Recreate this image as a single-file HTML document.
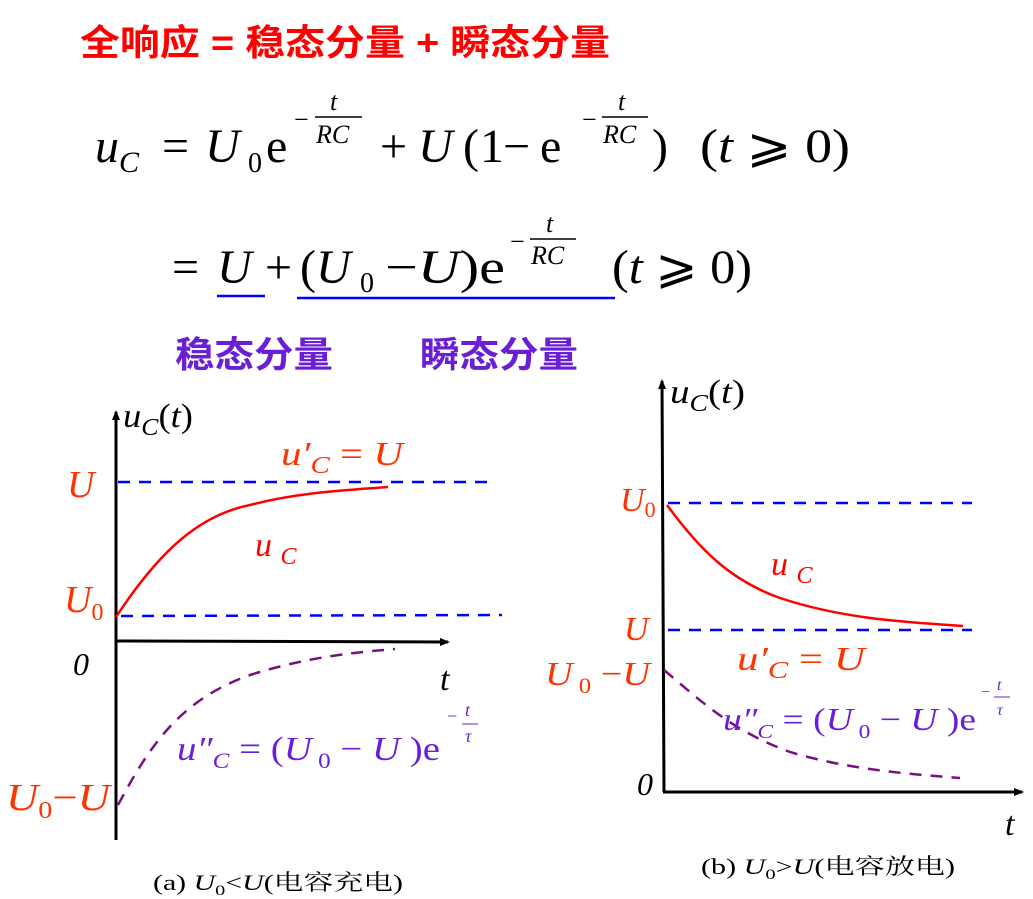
<!DOCTYPE html>
<html><head><meta charset="utf-8"><style>
html,body{margin:0;padding:0;background:#fff;width:1033px;height:899px;overflow:hidden}
svg{display:block}
.s{font-family:"Liberation Serif","Noto Serif CJK SC",serif}
.c{font-family:"Liberation Sans","Noto Sans CJK SC",sans-serif;font-weight:bold}
</style></head><body>
<svg width="1033" height="899" viewBox="0 0 1033 899" xmlns="http://www.w3.org/2000/svg">
<defs><marker id="ar" markerWidth="10" markerHeight="10" refX="8" refY="5" orient="auto" markerUnits="userSpaceOnUse"><path d="M0,1 L10,5 L0,9 z" fill="#000"/></marker></defs>
<text x="80" y="55" class="c" font-size="36" fill="#ff0000" textLength="530" lengthAdjust="spacingAndGlyphs">全响应 = 稳态分量 + 瞬态分量</text>
<!-- formula 1 -->
<g class="s" font-size="48" fill="#000">
<text x="95" y="162" font-style="italic">u<tspan font-size="30" dy="10">C</tspan></text>
<text x="162" y="162">=</text>
<text x="205" y="162" font-style="italic">U</text>
<text x="248" y="172" font-size="28">0</text>
<text x="266" y="162">e</text>
<text x="294" y="128" font-size="26">−</text>
<text x="330" y="110" font-size="26" font-style="italic">t</text>
<line x1="315" y1="117" x2="362" y2="117" stroke="#000" stroke-width="1.5"/>
<text x="316" y="143" font-size="26" font-style="italic">RC</text>
<text x="380" y="162">+</text>
<text x="418" y="162" font-style="italic">U</text>
<text x="463" y="162">(</text>
<text x="480" y="162">1</text>
<text x="503" y="162">−</text>
<text x="540" y="162">e</text>
<text x="582" y="128" font-size="26">−</text>
<text x="618" y="110" font-size="26" font-style="italic">t</text>
<line x1="602" y1="117" x2="648" y2="117" stroke="#000" stroke-width="1.5"/>
<text x="603" y="143" font-size="26" font-style="italic">RC</text>
<text x="652" y="162">)</text>
<text x="700" y="162" textLength="150" lengthAdjust="spacingAndGlyphs">(<tspan font-style="italic">t</tspan> ⩾ 0)</text>
</g>
<!-- formula 2 -->
<g class="s" font-size="48" fill="#000">
<text x="172" y="283">=</text>
<text x="217" y="283" font-style="italic">U</text>
<text x="265" y="283">+</text>
<text x="300" y="283">(<tspan font-style="italic">U</tspan></text>
<text x="360" y="292" font-size="28">0</text>
<text x="385" y="283" textLength="120" lengthAdjust="spacingAndGlyphs">−<tspan font-style="italic">U</tspan>)e</text>
<text x="510" y="250" font-size="26">−</text>
<text x="546" y="232" font-size="26" font-style="italic">t</text>
<line x1="530" y1="239" x2="576" y2="239" stroke="#000" stroke-width="1.5"/>
<text x="531" y="264" font-size="26" font-style="italic">RC</text>
<text x="612" y="283" textLength="140" lengthAdjust="spacingAndGlyphs">(<tspan font-style="italic">t</tspan> ⩾ 0)</text>
</g>
<line x1="217" y1="296" x2="265" y2="296" stroke="#0000ff" stroke-width="2.5"/>
<line x1="297" y1="298" x2="615" y2="298" stroke="#0000ff" stroke-width="2.5"/>
<text x="175" y="367" class="c" font-size="36" fill="#6a1fd6" textLength="158" lengthAdjust="spacingAndGlyphs">稳态分量</text>
<text x="420" y="367" class="c" font-size="36" fill="#6a1fd6" textLength="158" lengthAdjust="spacingAndGlyphs">瞬态分量</text>

<!-- chart a -->
<line x1="116" y1="840" x2="116" y2="412" stroke="#000" stroke-width="3" marker-end="url(#ar)"/>
<line x1="116" y1="641" x2="448" y2="642" stroke="#000" stroke-width="3" marker-end="url(#ar)"/>
<line x1="118" y1="482" x2="487" y2="482" stroke="#0000ff" stroke-width="2.5" stroke-dasharray="12,9"/>
<line x1="121" y1="616" x2="502" y2="615" stroke="#0000ff" stroke-width="2.5" stroke-dasharray="12,9"/>
<path d="M116,617 C160,550 200,515 250,505 C300,492 350,490 388,487" fill="none" stroke="#ff0000" stroke-width="2.5"/>
<path d="M118,805 C150,745 180,700 250,675 C310,656 360,652 395,649" fill="none" stroke="#7a1080" stroke-width="2.5" stroke-dasharray="12,9"/>
<g class="s" fill="#ff3300" font-style="italic">
<text x="67" y="497" font-size="38">U</text>
<text x="64" y="612" font-size="38">U<tspan font-size="24" dy="8" font-style="normal">0</tspan></text>
<text x="6" y="810" font-size="38" textLength="104" lengthAdjust="spacingAndGlyphs">U<tspan font-size="24" dy="8" font-style="normal">0</tspan><tspan dy="-8" font-style="normal">−</tspan>U</text>
<text x="281" y="465" font-size="34" textLength="122" lengthAdjust="spacingAndGlyphs">u′<tspan font-size="24" dy="8">C</tspan><tspan dy="-8" font-style="normal"> = </tspan>U</text>
</g>
<text x="255" y="556" class="s" font-size="34" font-style="italic" fill="#ff0000">u <tspan font-size="24" dy="8">C</tspan></text>
<text x="73" y="675" class="s" font-size="32" font-style="italic" fill="#000">0</text>
<text x="440" y="690" class="s" font-size="34" font-style="italic" fill="#000">t</text>
<text x="123" y="427" class="s" font-size="34" font-style="italic" fill="#000" textLength="70" lengthAdjust="spacingAndGlyphs">u<tspan font-size="24" dy="8">C</tspan><tspan dy="-8" font-style="normal">(</tspan>t<tspan font-style="normal">)</tspan></text>
<g class="s" fill="#6a1fd6">
<text x="177" y="760" font-size="34" textLength="263" lengthAdjust="spacingAndGlyphs"><tspan font-style="italic">u″<tspan font-size="22" dy="8">C</tspan></tspan><tspan dy="-8"> = (</tspan><tspan font-style="italic">U</tspan><tspan font-size="22" dy="8"> 0</tspan><tspan dy="-8"> − </tspan><tspan font-style="italic">U</tspan> )e</text>
<text x="447" y="722" font-size="18">−</text>
<text x="465" y="716" font-size="18" font-style="italic">t</text>
<line x1="462" y1="724" x2="478" y2="724" stroke="#6a1fd6" stroke-width="1"/>
<text x="465" y="742" font-size="18" font-style="italic">τ</text>
</g>
<text x="153" y="890" class="s" font-size="22" fill="#000" textLength="250" lengthAdjust="spacingAndGlyphs">(a) <tspan font-style="italic">U</tspan><tspan font-size="15" dy="5">0</tspan><tspan dy="-5">&lt;</tspan><tspan font-style="italic">U</tspan>(电容充电)</text>

<!-- chart b -->
<line x1="664" y1="792" x2="662" y2="381" stroke="#000" stroke-width="3" marker-end="url(#ar)"/>
<line x1="663" y1="792" x2="1022" y2="792" stroke="#000" stroke-width="3" marker-end="url(#ar)"/>
<line x1="668" y1="503" x2="972" y2="503" stroke="#0000ff" stroke-width="2.5" stroke-dasharray="12,9"/>
<line x1="668" y1="630" x2="972" y2="630" stroke="#0000ff" stroke-width="2.5" stroke-dasharray="12,9"/>
<path d="M667,505 C700,550 730,580 780,598 C840,618 900,622 963,626" fill="none" stroke="#ff0000" stroke-width="2.5"/>
<path d="M664,670 C700,700 730,730 790,752 C850,770 910,774 960,778" fill="none" stroke="#7a1080" stroke-width="2.5" stroke-dasharray="12,9"/>
<g class="s" fill="#ff3300" font-style="italic">
<text x="620" y="511" font-size="34">U<tspan font-size="22" dy="6" font-style="normal">0</tspan></text>
<text x="624" y="640" font-size="34">U</text>
<text x="545" y="685" font-size="34" textLength="105" lengthAdjust="spacingAndGlyphs">U<tspan font-size="22" dy="8" font-style="normal"> 0</tspan><tspan dy="-8" font-style="normal"> −</tspan>U</text>
<text x="737" y="670" font-size="34" textLength="128" lengthAdjust="spacingAndGlyphs">u′<tspan font-size="24" dy="8">C</tspan><tspan dy="-8" font-style="normal"> = </tspan>U</text>
</g>
<text x="771" y="575" class="s" font-size="34" font-style="italic" fill="#ff0000">u <tspan font-size="24" dy="8">C</tspan></text>
<text x="637" y="795" class="s" font-size="32" font-style="italic" fill="#000">0</text>
<text x="1005" y="835" class="s" font-size="34" font-style="italic" fill="#000">t</text>
<text x="670" y="403" class="s" font-size="34" font-style="italic" fill="#000" textLength="75" lengthAdjust="spacingAndGlyphs">u<tspan font-size="24" dy="8">C</tspan><tspan dy="-8" font-style="normal">(</tspan>t<tspan font-style="normal">)</tspan></text>
<g class="s" fill="#6a1fd6">
<text x="723" y="730" font-size="32" textLength="253" lengthAdjust="spacingAndGlyphs"><tspan font-style="italic">u″<tspan font-size="20" dy="8">C</tspan></tspan><tspan dy="-8"> = (</tspan><tspan font-style="italic">U</tspan><tspan font-size="20" dy="8"> 0</tspan><tspan dy="-8"> − </tspan><tspan font-style="italic">U</tspan> )e</text>
<text x="981" y="697" font-size="16">−</text>
<text x="997" y="690" font-size="16" font-style="italic">t</text>
<line x1="994" y1="697" x2="1010" y2="697" stroke="#6a1fd6" stroke-width="1"/>
<text x="997" y="715" font-size="16" font-style="italic">τ</text>
</g>
<text x="701" y="874" class="s" font-size="22" fill="#000" textLength="254" lengthAdjust="spacingAndGlyphs">(b) <tspan font-style="italic">U</tspan><tspan font-size="15" dy="5">0</tspan><tspan dy="-5">&gt;</tspan><tspan font-style="italic">U</tspan>(电容放电)</text>
</svg>
</body></html>
